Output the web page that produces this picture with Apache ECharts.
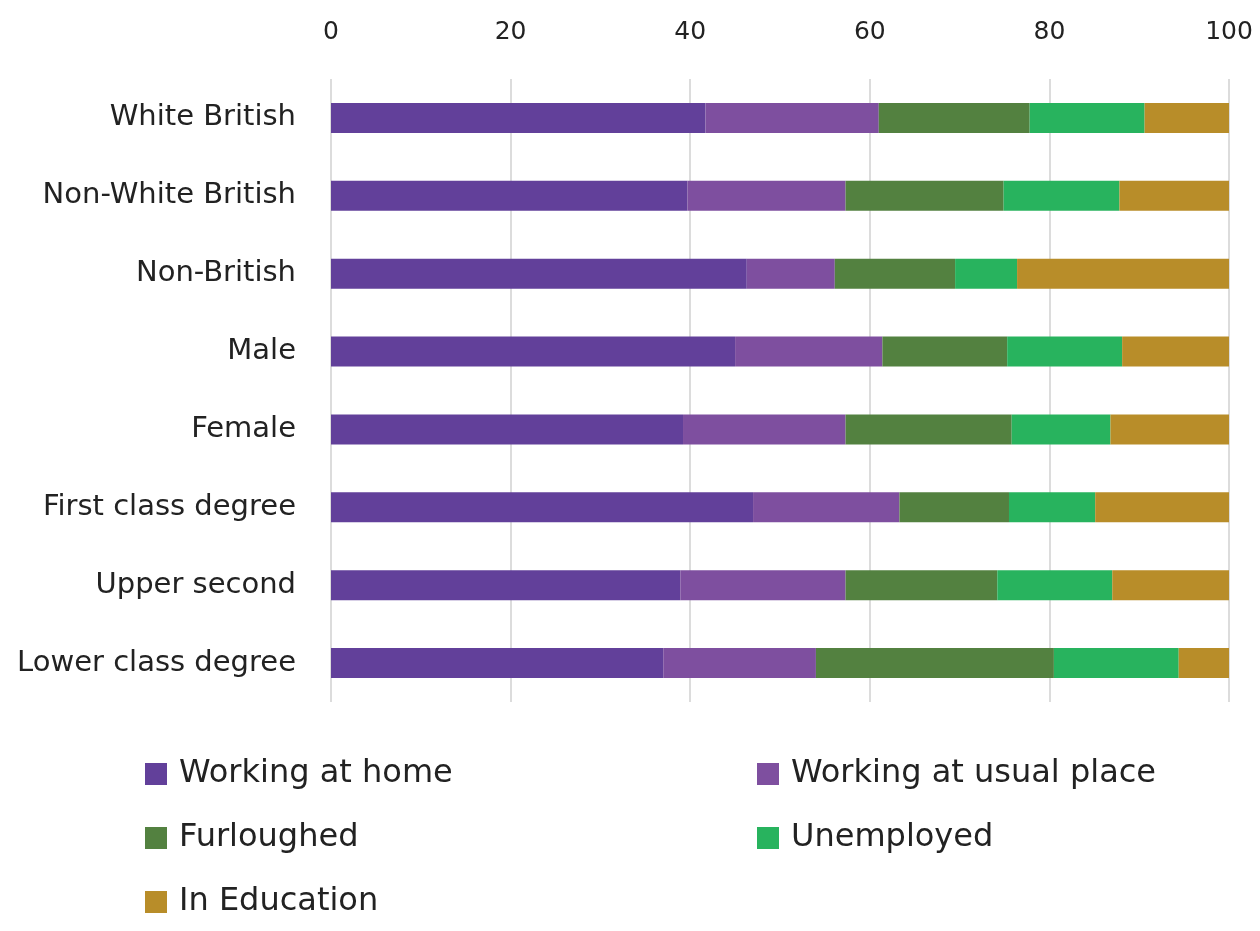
<!DOCTYPE html>
<html><head><meta charset="utf-8">
<script src="https://cdn.jsdelivr.net/npm/echarts@6/dist/echarts.min.js"></script>
<style>html,body{margin:0;padding:0;background:#fff}#c{width:1260px;height:931px}</style>
</head><body><div id="c"></div>
<script>
const categories = ["White British","Non-White British","Non-British","Male","Female","First class degree","Upper second","Lower class degree"];
const seriesNames = ["Working at home","Working at usual place","Furloughed","Unemployed","In Education"];
const workingAtHome   = [41.7, 39.7, 46.3, 45.0, 39.2, 47.0, 38.9, 37.0];
const workingAtUsual  = [19.3, 17.6,  9.8, 16.4, 18.1, 16.3, 18.4, 17.0];
const furloughed      = [16.8, 17.6, 13.4, 13.9, 18.5, 12.2, 16.9, 26.5];
const unemployed      = [12.8, 12.9,  6.9, 12.8, 11.0,  9.6, 12.8, 13.9];
const inEducation     = [ 9.4, 12.2, 23.6, 11.9, 13.2, 14.9, 13.0,  5.6];
const tickValues = [0, 20, 40, 60, 80, 100];

const colors = ["#62409A","#7E4F9F","#538140","#28B35E","#B88D29"];
const allData = [workingAtHome, workingAtUsual, furloughed, unemployed, inEducation];
const font = "'DejaVu Sans', sans-serif";

const chart = echarts.init(document.getElementById('c'));
const legendText = { fontSize: 32, color: '#222', fontFamily: font, padding: [0, 0, 0, 7] };
chart.setOption({
  animation: false,
  grid: { left: 331, right: 31, top: 79, bottom: 229, containLabel: false },
  xAxis: {
    type: 'value', position: 'top', min: 0, max: 100, interval: 20,
    axisLine: { show: false }, axisTick: { show: false },
    splitLine: { show: true, lineStyle: { color: '#d0d0d0', width: 1.5 } },
    axisLabel: { fontSize: 25, color: '#222', fontFamily: font, margin: 34,
      formatter: v => tickValues.includes(v) ? String(v) : '' }
  },
  yAxis: {
    type: 'category', data: categories, inverse: true,
    axisLine: { show: false }, axisTick: { show: false },
    axisLabel: { fontSize: 29, color: '#222', fontFamily: font, margin: 35 }
  },
  legend: [
    { left: 140, top: 753, orient: 'vertical', itemWidth: 22, itemHeight: 22, itemGap: 32,
      icon: 'rect', data: [seriesNames[0], seriesNames[2], seriesNames[4]], textStyle: legendText },
    { left: 752, top: 753, orient: 'vertical', itemWidth: 22, itemHeight: 22, itemGap: 32,
      icon: 'rect', data: [seriesNames[1], seriesNames[3]], textStyle: legendText }
  ],
  series: seriesNames.map((n, i) => ({
    name: n, type: 'bar', stack: 'total', data: allData[i],
    barWidth: 30, itemStyle: { color: colors[i] }
  }))
});
</script></body></html>
